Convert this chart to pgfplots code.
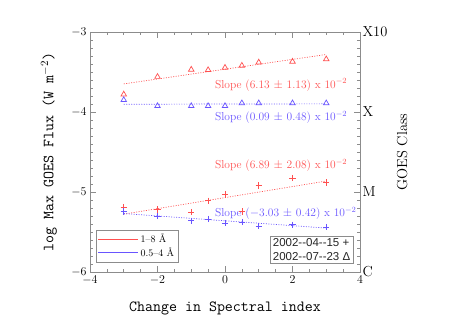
\documentclass[border=0pt]{standalone}
\usepackage{pgfplots}
\pgfplotsset{compat=1.18}
\usepackage{fontspec}
\newfontfamily\helv{Liberation Sans}
\definecolor{redc}{RGB}{255,80,80}
\definecolor{bluec}{RGB}{105,85,255}
\definecolor{framec}{RGB}{140,140,140}
\begin{document}
\begin{tikzpicture}[x=1pt,y=1pt]
\begin{axis}[
  at={(90pt,49pt)}, anchor=south west, scale only axis,
  width=270pt, height=240pt,
  xmin=-4, xmax=4, ymin=-6, ymax=-3,
  xtick={-4,-2,0,2,4}, minor x tick num=3,
  ytick={-6,-5,-4,-3}, minor y tick num=9,
  yticklabel pos=left,
  tick align=inside, major tick length=6pt, minor tick length=3pt,
  axis line style={framec}, every tick/.style={framec, line width=0.5pt},
  tick label style={font=\fontsize{13}{13}\selectfont},
  xlabel={Change in Spectral index},
  ylabel={log Max GOES Flux (W m$^{-2}$)},
  label style={font=\ttfamily\fontsize{15.5}{16}\selectfont},
  xlabel style={at={(axis description cs:0.5,-0.1625)}, anchor=base},
  ylabel style={at={(axis description cs:-0.152,0.5)}, anchor=center},
  legend style={at={(rel axis cs:0.022,0.042)}, anchor=south west,
    draw=framec, font=\fontsize{10}{11}\selectfont, inner sep=2pt,
    row sep=-1pt},
  legend cell align=left,
  legend image code/.code={\draw[#1] (0pt,0pt) -- (40pt,0pt);},
]
\addlegendimage{redc}
\addlegendentry{1--8 \AA}
\addlegendimage{bluec}
\addlegendentry{0.5--4 \AA}

% 2002-07-23, 1-8 A (triangles)
\addplot[forget plot, only marks, color=redc, mark=triangle, mark size=3.2pt, mark options={draw=redc, line width=0.7pt}]
 coordinates {(-3,-3.78) (-2,-3.56) (-1,-3.47) (-0.5,-3.475) (0,-3.446) (0.5,-3.42) (1,-3.38) (2,-3.37) (3,-3.34)};
\addplot[forget plot, color=redc, dash pattern=on 1pt off 1.5pt, line width=0.7pt]
 coordinates {(-3,-3.649) (3,-3.281)};
% 2002-07-23, 0.5-4 A
\addplot[forget plot, only marks, color=bluec, mark=triangle, mark size=3.2pt, mark options={draw=bluec, line width=0.7pt}]
 coordinates {(-3,-3.85) (-2,-3.925) (-1,-3.925) (-0.5,-3.925) (0,-3.925) (0.5,-3.89) (1,-3.89) (2,-3.89) (3,-3.89)};
\addplot[forget plot, color=bluec, dash pattern=on 1pt off 1.5pt, line width=0.7pt]
 coordinates {(-3,-3.903) (3,-3.898)};
% 2002-04-15, 1-8 A (crosses)
\addplot[forget plot, only marks, color=redc, mark=+, mark size=3.2pt, mark options={draw=redc, line width=0.7pt}]
 coordinates {(-3,-5.19) (-2,-5.22) (-1,-5.25) (-0.5,-5.11) (0,-5.025) (0.5,-5.245) (1,-4.92) (2,-4.825) (3,-4.88)};
\addplot[forget plot, color=redc, dash pattern=on 1pt off 1.5pt, line width=0.7pt]
 coordinates {(-3,-5.277) (3,-4.863)};
% 2002-04-15, 0.5-4 A
\addplot[forget plot, only marks, color=bluec, mark=+, mark size=3.2pt, mark options={draw=bluec, line width=0.7pt}]
 coordinates {(-3,-5.245) (-2,-5.30) (-1,-5.36) (-0.5,-5.34) (0,-5.39) (0.5,-5.375) (1,-5.425) (2,-5.41) (3,-5.44)};
\addplot[forget plot, color=bluec, dash pattern=on 1pt off 1.5pt, line width=0.7pt]
 coordinates {(-3,-5.269) (3,-5.451)};

\node[anchor=west, text=redc, font=\fontsize{11.5}{12}\selectfont, inner sep=0pt] at (axis cs:-0.3,-3.66) {Slope (6.13 $\pm$ 1.13) x 10$^{-2}$};
\node[anchor=west, text=bluec, font=\fontsize{11.5}{12}\selectfont, inner sep=0pt] at (axis cs:-0.3,-4.07) {Slope (0.09 $\pm$ 0.48) x 10$^{-2}$};
\node[anchor=west, text=redc, font=\fontsize{11.5}{12}\selectfont, inner sep=0pt] at (axis cs:-0.3,-4.67) {Slope (6.89 $\pm$ 2.08) x 10$^{-2}$};
\node[anchor=west, text=bluec, font=\fontsize{11.5}{12}\selectfont, inner sep=0pt] at (axis cs:-0.3,-5.27) {Slope ($-$3.03 $\pm$ 0.42) x 10$^{-2}$};

\node[anchor=south east, draw=framec, align=left, text=black!85, inner sep=2.5pt,
      font=\helv\fontsize{11.5}{13.5}\selectfont]
  at (rel axis cs:0.974,0.0375) {2002--04--15 +\\2002--07--23 Δ};
\end{axis}
\begin{axis}[
  at={(90pt,49pt)}, anchor=south west, scale only axis,
  width=270pt, height=240pt,
  xmin=-4, xmax=4, ymin=-6, ymax=-3,
  axis x line=none, axis y line*=right,
  axis line style={draw=none},
  ytick={-6,-5,-4,-3}, yticklabels={C,M,X,X10},
  major tick length=0pt,
  yticklabel style={font=\fontsize{14.5}{15}\selectfont, xshift=-1pt},
  ylabel={GOES Class},
  ylabel style={font=\fontsize{14.5}{15}\selectfont, at={(axis description cs:1.156,0.5)}, anchor=center},
]
\end{axis}
\pgfresetboundingbox
\path[use as bounding box] (0pt,0pt) rectangle (450pt,321pt);
\end{tikzpicture}
\end{document}
